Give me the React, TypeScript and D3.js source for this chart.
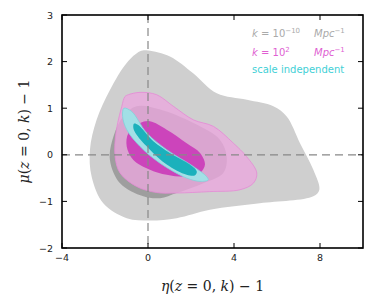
import React, { useRef, useEffect } from "react";
import * as d3 from "d3";

type Pt = [number, number];

// contours, in (eta, mu) data units
const grayOuter: Pt[] = [
  [0, 2.24], [1.02, 2.11], [2.1, 1.75], [3.2, 1.32], [4.6, 1.18], [5.83, 1.04],
  [6.45, 0.82], [7.07, 0.25], [7.69, -0.32], [7.97, -0.75], [7.69, -0.89],
  [5.2, -1.04], [2.88, -1.18], [1.33, -1.36], [0.09, -1.41], [-0.99, -1.36],
  [-2.08, -1.04], [-2.62, -0.47], [-2.7, 0.11], [-2.39, 0.75], [-1.77, 1.39],
  [-0.99, 1.97], [-0.37, 2.22],
];
const grayInner: Pt[] = [
  [-0.53, 1.04], [0.56, 0.97], [2.11, 0.68], [3.35, 0.32], [3.66, -0.04],
  [3.5, -0.39], [2.57, -0.61], [1.33, -0.82], [0.56, -0.93], [-0.22, -0.89],
  [-1.3, -0.61], [-1.77, -0.11], [-1.61, 0.39], [-1.15, 0.82],
];
const pinkOuter: Pt[] = [
  [-0.91, 1.29], [-0.37, 1.34], [0.4, 1.29], [1.18, 1.04], [2.11, 0.75],
  [3.04, 0.61], [3.97, 0.25], [4.59, -0.04], [5.06, -0.39], [4.9, -0.61],
  [4.28, -0.75], [2.88, -0.79], [1.33, -0.82], [0.4, -0.81], [-0.53, -0.68],
  [-1.3, -0.39], [-1.53, -0.04], [-1.49, 0.47], [-1.22, 1.04], [-1.07, 1.25],
];
const pinkInner: Pt[] = [
  [-0.91, 0.47], [-0.37, 0.68], [0.09, 0.72], [0.87, 0.54], [1.8, 0.25],
  [2.42, 0.04], [2.65, -0.21], [2.42, -0.39], [1.8, -0.47], [0.87, -0.43],
  [0.09, -0.32], [-0.68, -0.11], [-0.99, 0.18],
];
const cyanOuter: Pt[] = [
  [-1.12, 1.0], [-0.76, 0.93], [-0.06, 0.47], [0.87, 0.11], [2.11, -0.25],
  [2.73, -0.47], [2.8, -0.54], [2.42, -0.57], [1.8, -0.5], [0.56, -0.18],
  [-0.37, 0.18], [-0.99, 0.54], [-1.18, 0.82],
];
const cyanInner: Pt[] = [
  [-0.65, 0.67], [-0.45, 0.64], [0.25, 0.29], [1.02, 0.04], [1.95, -0.21],
  [2.27, -0.36], [2.19, -0.44], [1.8, -0.43], [0.87, -0.21], [0.09, 0.11],
  [-0.53, 0.43], [-0.68, 0.57],
];

const xTicks = [-4, 0, 4, 8];
const yTicks = [-2, -1, 0, 1, 2, 3];

const App = () => {
  const svgRef = useRef<SVGSVGElement>(null);

  useEffect(() => {
    const svg = d3.select(svgRef.current);
    svg.selectAll("*").remove();

    const left = 62, right = 363, top = 15, bottom = 248;
    const x = d3.scaleLinear().domain([-4, 10]).range([left, right]);
    const y = d3.scaleLinear().domain([-2, 3]).range([bottom, top]);

    const line = d3
      .line<Pt>()
      .x((d) => x(d[0]))
      .y((d) => y(d[1]))
      .curve(d3.curveCatmullRomClosed.alpha(0.5));

    const g = svg.append("g");
    const shapes: [Pt[], string, number, string][] = [
      [grayOuter, "#cfcfcf", 1, "none"],
      [grayInner, "#9e9e9e", 1, "none"],
      [pinkOuter, "#eaa6de", 0.78, "#e48ad6"],
      [pinkInner, "#cc44bb", 1, "none"],
      [cyanOuter, "#a2e0e6", 1, "#7fd3db"],
      [cyanInner, "#1bb1bc", 1, "none"],
    ];
    shapes.forEach(([pts, fill, op, stroke]) => {
      g.append("path")
        .attr("d", line(pts))
        .attr("fill", fill)
        .attr("fill-opacity", op)
        .attr("stroke", stroke)
        .attr("stroke-width", 0.8);
    });

    // dashed zero lines
    g.append("line")
      .attr("x1", x(0)).attr("x2", x(0))
      .attr("y1", top).attr("y2", bottom)
      .attr("stroke", "#888").attr("stroke-width", 1.2)
      .attr("stroke-dasharray", "8,5");
    g.append("line")
      .attr("x1", left).attr("x2", right)
      .attr("y1", y(0)).attr("y2", y(0))
      .attr("stroke", "#888").attr("stroke-width", 1.2)
      .attr("stroke-dasharray", "8,5");

    // ticks, inward on all four sides
    const tk = 5;
    xTicks.forEach((t) => {
      g.append("line").attr("x1", x(t)).attr("x2", x(t))
        .attr("y1", bottom).attr("y2", bottom - tk).attr("stroke", "#000");
      g.append("line").attr("x1", x(t)).attr("x2", x(t))
        .attr("y1", top).attr("y2", top + tk).attr("stroke", "#000");
      g.append("text").attr("x", x(t)).attr("y", bottom + 13)
        .attr("text-anchor", "middle").attr("font-size", 9.5)
        .attr("font-family", "DejaVu Sans").attr("fill", "#222")
        .text(d3.format("")(t).replace("-", "\u2212"));
    });
    yTicks.forEach((t) => {
      g.append("line").attr("x1", left).attr("x2", left + tk)
        .attr("y1", y(t)).attr("y2", y(t)).attr("stroke", "#000");
      g.append("line").attr("x1", right).attr("x2", right - tk)
        .attr("y1", y(t)).attr("y2", y(t)).attr("stroke", "#000");
      g.append("text").attr("x", left - 9).attr("y", y(t) + 3.5)
        .attr("text-anchor", "end").attr("font-size", 9.5)
        .attr("font-family", "DejaVu Sans").attr("fill", "#222")
        .text(d3.format("")(t).replace("-", "\u2212"));
    });

    g.append("rect")
      .attr("x", left).attr("y", top)
      .attr("width", right - left).attr("height", bottom - top)
      .attr("fill", "none").attr("stroke", "#000").attr("stroke-width", 1.6);

    // axis labels
    const mathLabel = (sel, sym: string) => {
      sel.append("tspan").attr("font-style", "italic").text(sym);
      sel.append("tspan").text("(");
      sel.append("tspan").attr("font-style", "italic").text("z");
      sel.append("tspan").text(" = 0, ");
      sel.append("tspan").attr("font-style", "italic").text("k");
      sel.append("tspan").text(") \u2212 1");
    };
    const xl = g.append("text")
      .attr("x", (left + right) / 2).attr("y", 291)
      .attr("text-anchor", "middle").attr("font-size", 14)
      .attr("font-family", "DejaVu Serif").attr("fill", "#222");
    mathLabel(xl, "\u03b7");
    const yl = g.append("text")
      .attr("transform", `translate(29,${(top + bottom) / 2}) rotate(-90)`)
      .attr("text-anchor", "middle").attr("font-size", 14)
      .attr("font-family", "DejaVu Serif").attr("fill", "#222");
    mathLabel(yl, "\u03bc");

    // legend
    const lx = 252;
    const leg = [
      { y: 37, color: "#aaaaaa", exp: "\u221210" },
      { y: 56, color: "#e05fd2", exp: "2" },
    ];
    leg.forEach((l) => {
      const t = g.append("text").attr("x", lx).attr("y", l.y)
        .attr("font-size", 10).attr("font-family", "DejaVu Sans").attr("fill", l.color);
      t.append("tspan").attr("font-style", "italic").text("k");
      t.append("tspan").text(" = 10");
      t.append("tspan").attr("font-size", 7).attr("dy", -4).text(l.exp);
      const m = g.append("text").attr("x", 314).attr("y", l.y)
        .attr("font-size", 10).attr("font-family", "DejaVu Sans").attr("fill", l.color);
      m.append("tspan").attr("font-style", "italic").text("Mpc");
      m.append("tspan").attr("font-size", 7).attr("dy", -4).text("\u22121");
    });
    g.append("text").attr("x", lx).attr("y", 73)
      .attr("font-size", 10).attr("font-family", "DejaVu Sans")
      .attr("fill", "#3fd0d6").text("scale independent");
  }, []);

  return (
    <svg
      ref={svgRef}
      width={375}
      height={306}
      style={{ position: "absolute", left: 0, top: 0, background: "#fff" }}
    />
  );
};

export default App;
